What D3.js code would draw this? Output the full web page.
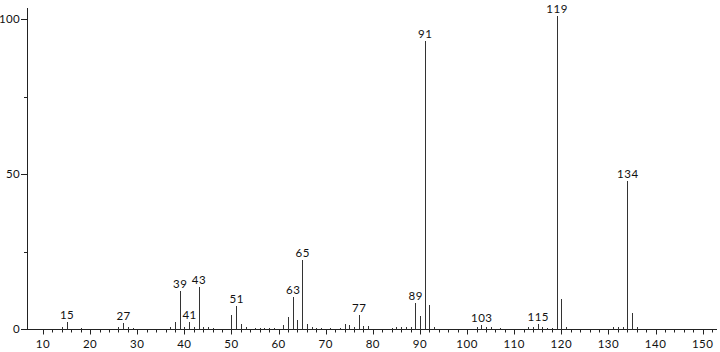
<!DOCTYPE html>
<html><head><meta charset="utf-8">
<script src="https://cdn.jsdelivr.net/npm/d3@7/dist/d3.min.js"></script>
<style>body{margin:0;background:#fff}svg{display:block}text{font-family:Lato,"DejaVu Sans",sans-serif;font-size:11.5px;fill:#111}</style>
</head><body><svg id="c" width="720" height="352"></svg>
<script>
const mz =        [14,15,18,26,27,28,29,37,38,39,40,41,42,43,44,45,46,50,51,52,53,55,56,57,58,59,61,62,63,64,65,66,67,68,69,71,73,74,75,76,77,78,79,84,85,86,87,88,89,90,91,92,93,102,103,104,105,107,113,114,115,116,117,118,119,120,121,131,132,133,134,135,136];
const intensity = [0.5,2.1,0.3,0.8,2.0,0.6,0.3,0.6,2.4,12.4,0.8,2.4,0.6,13.5,0.6,0.5,0.3,4.5,7.4,1.7,0.6,0.3,0.3,0.3,0.3,0.3,1.4,3.8,10.4,2.8,22.3,1.5,0.5,0.3,0.3,0.3,0.4,1.6,1.3,0.6,4.4,1.1,0.9,0.3,0.5,0.5,0.6,0.7,8.3,4.2,93,7.7,0.5,0.5,1.3,0.8,0.5,0.3,0.5,0.5,1.6,0.5,0.3,0.3,101,9.6,0.5,0.5,0.7,0.7,47.7,5.1,0.5];
const labeled = [15,27,39,41,43,51,63,65,77,89,91,103,115,119,134];
const xMajor = [10,20,30,40,50,60,70,80,90,100,110,120,130,140,150];
const xMinor = d3.range(12,153,2).filter(v=>v%10!==0);
const yMajor = [0,50,100];
const yMinor = [25,75];

const svg = d3.select("#c");
const x = d3.scaleLinear().domain([10,150]).range([43,702.7]);
const y = d3.scaleLinear().domain([0,100]).range([329,19]);
const x1 = x.invert(717);
const px = v => Math.round(x(v)) + 0.5;
const py = v => Math.round(y(v)) + 0.5;

// axes lines
svg.append("line").attr("x1",27).attr("x2",Math.round(x(x1))).attr("y1",py(0)).attr("y2",py(0)).attr("stroke","#222");
svg.append("line").attr("x1",27.5).attr("x2",27.5).attr("y1",py(0)).attr("y2",Math.round(y(103.5))).attr("stroke","#222");

// x ticks
svg.selectAll(".xM").data(xMajor).join("line").attr("x1",px).attr("x2",px).attr("y1",py(0)).attr("y2",py(0)+5).attr("stroke","#222");
svg.selectAll(".xm").data(xMinor).join("line").attr("x1",px).attr("x2",px).attr("y1",py(0)).attr("y2",py(0)+3).attr("stroke","#222");
svg.selectAll(".xl").data(xMajor).join("text").attr("x",d=>x(d)).attr("y",348).attr("text-anchor","middle").attr("letter-spacing","0.5px").text(d=>d);

// y ticks
svg.selectAll(".yM").data(yMajor).join("line").attr("x1",21).attr("x2",27.5).attr("y1",py).attr("y2",py).attr("stroke","#222");
svg.selectAll(".ym").data(yMinor).join("line").attr("x1",24).attr("x2",27.5).attr("y1",py).attr("y2",py).attr("stroke","#222");
svg.selectAll(".yl").data(yMajor).join("text").attr("x",20).attr("y",d=>y(d)+4).attr("text-anchor","end").attr("letter-spacing","0.3px").text(d=>d);

// peaks
const peaks = mz.map((m,i)=>({m, v:intensity[i]}));
svg.selectAll(".pk").data(peaks).join("line").attr("x1",d=>px(d.m)).attr("x2",d=>px(d.m))
  .attr("y1",py(0)).attr("y2",d=>Math.round(y(d.v))).attr("stroke","#333").attr("stroke-width",1);

// labels
svg.selectAll(".pl").data(peaks.filter(d=>labeled.includes(d.m))).join("text")
  .attr("x",d=>x(d.m)+0.5).attr("y",d=>y(d.v)-3).attr("text-anchor","middle").attr("letter-spacing","0.5px").text(d=>d.m);
</script></body></html>
